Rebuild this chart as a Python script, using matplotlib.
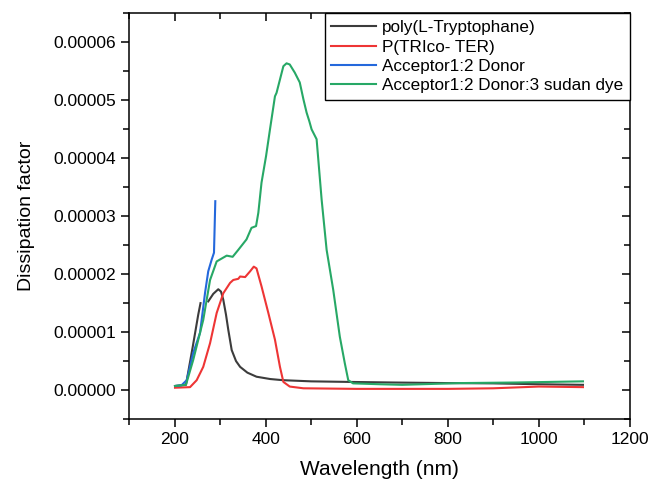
import numpy as np
import matplotlib.pyplot as plt
from matplotlib.ticker import MultipleLocator

plt.rcParams['font.family'] = ['Liberation Sans', 'DejaVu Sans']

# poly(L-Tryptophane) -- small gap in the trace around 260-270 nm
wl_trp = [201, 225, 240, 252, 257, np.nan, 274, 285, 296, 302, 307, 313, 318, 325.5, 335, 344,
          360, 380, 410, 438, 500, 585, 680, 800, 900, 1000, 1097]
df_trp = [0.07, 0.09, 0.75, 1.30, 1.50, np.nan, 1.53, 1.66, 1.74, 1.70, 1.56, 1.30, 1.04, 0.69, 0.50, 0.40,
          0.30, 0.23, 0.19, 0.17, 0.15, 0.14, 0.13, 0.12, 0.115, 0.10, 0.09]

# P(TRIco- TER)
wl_ter = [201, 234, 248.6, 263, 278, 292.5, 307, 322, 329, 340, 344, 355, 366, 374, 380,
          391, 406, 420.5, 431.5, 439, 453, 483, 600, 800, 900, 1000, 1097]
df_ter = [0.04, 0.05, 0.17, 0.40, 0.81, 1.33, 1.67, 1.85, 1.90, 1.92, 1.96, 1.95, 2.05, 2.13, 2.10,
          1.79, 1.33, 0.87, 0.40, 0.14, 0.06, 0.03, 0.02, 0.02, 0.03, 0.06, 0.05]

# Acceptor1:2 Donor
wl_ad = [201, 215, 226.7, 241, 256, 267, 274, 281.5, 286.6, 289.5]
df_ad = [0.07, 0.08, 0.17, 0.64, 0.99, 1.68, 2.05, 2.25, 2.37, 3.26]

# Acceptor1:2 Donor:3 sudan dye
wl_ads = [201, 225, 241, 263, 278, 292.5, 314.5, 327.6, 340, 358, 369, 379, 384, 391, 401,
          409.6, 420.5, 424, 431.5, 439, 446, 453, 464, 475, 483, 490, 496, 501, 512,
          523, 534, 548.5, 563, 574, 581.5, 592, 651, 700, 827, 950, 1097]
df_ads = [0.07, 0.09, 0.52, 1.21, 1.90, 2.22, 2.32, 2.30, 2.42, 2.60, 2.80, 2.83, 3.06, 3.58, 4.04,
          4.50, 5.07, 5.13, 5.36, 5.59, 5.64, 5.62, 5.48, 5.31, 5.02, 4.79, 4.64, 4.50, 4.33,
          3.29, 2.42, 1.73, 0.92, 0.46, 0.17, 0.115, 0.10, 0.09, 0.12, 0.13, 0.15]

series = [
    (wl_trp, df_trp, '#3c3c3c', 'poly(L-Tryptophane)'),
    (wl_ter, df_ter, '#ee3535', 'P(TRIco- TER)'),
    (wl_ad, df_ad, '#2468dc', 'Acceptor1:2 Donor'),
    (wl_ads, df_ads, '#27a866', 'Acceptor1:2 Donor:3 sudan dye'),
]

fig = plt.figure(figsize=(6.5, 4.82), dpi=100)
ax = fig.add_axes([0.1985, 0.1307, 0.7705, 0.8413])

for x, y, c, lab in series:
    ax.plot(x, np.array(y) * 1e-5, color=c, lw=1.5, label=lab)

ax.set_xlim(100, 1200)
ax.set_ylim(-0.5e-5, 6.5e-5)
ax.xaxis.set_major_locator(MultipleLocator(200))
ax.xaxis.set_minor_locator(MultipleLocator(100))
ax.yaxis.set_major_locator(MultipleLocator(1e-5))
ax.yaxis.set_minor_locator(MultipleLocator(0.5e-5))
ax.yaxis.set_major_formatter(plt.FuncFormatter(lambda v, p: f"{v:.5f}"))

ax.tick_params(which='both', direction='out', labelsize=12.5, width=1.1)
ax.tick_params(which='major', length=6)
ax.tick_params(which='minor', length=4)
ax.tick_params(which='both', top=True, right=True, labeltop=False, labelright=False)
for t in ax.yaxis.get_ticklines(minor=False)[1::2] + ax.yaxis.get_ticklines(minor=True)[1::2]:
    t.set_marker(0)  # right side ticks point inward
for t in ax.xaxis.get_ticklines(minor=False)[1::2] + ax.xaxis.get_ticklines(minor=True)[1::2]:
    t.set_marker(3)  # top ticks point inward
for s in ax.spines.values():
    s.set_linewidth(1.1)

ax.set_xlabel('Wavelength (nm)', fontsize=15, labelpad=9)
ax.set_ylabel('Dissipation factor', fontsize=14, labelpad=13)

leg = ax.legend(loc='upper right', fontsize=12.3, fancybox=False, framealpha=1,
                edgecolor='black', borderaxespad=0, labelspacing=0.25,
                handlelength=2.6, handletextpad=0.35, borderpad=0.4)
leg.get_frame().set_linewidth(1.0)

fig.savefig('out.png', dpi=100)
